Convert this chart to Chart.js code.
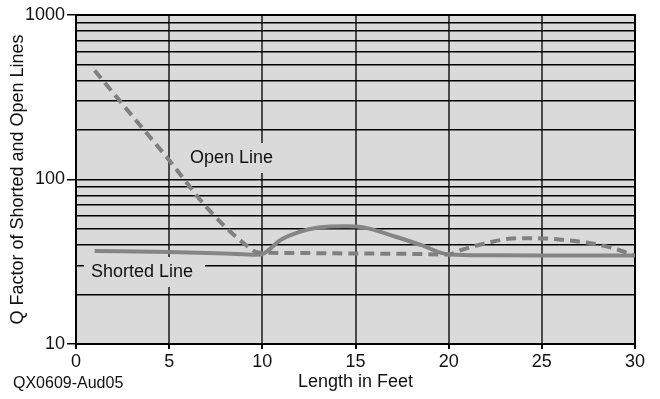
<!DOCTYPE html>
<html>
<head>
<meta charset="utf-8">
<script src="https://cdn.jsdelivr.net/npm/chart.js@4.4.1/dist/chart.umd.min.js"></script>
<style>
  html, body { margin: 0; padding: 0; background: #fff; }
  #wrap { width: 660px; height: 399px; position: relative; }
</style>
</head>
<body>
<div id="wrap"><canvas id="myChart"></canvas></div>
<script>
// Open line (dashed) - length in feet / Q factor
const openFeet = [1, 3, 5, 7, 9, 9.8, 12, 15, 18, 20, 20.6, 22, 23.7, 24.7, 26.1, 27.6, 28.7, 30];
const openQ = [460, 245, 131, 68, 41, 36, 35.7, 35.5, 35.3, 35, 37, 41, 44, 44, 43, 41, 38.5, 34.5];

// Shorted line (solid)
const shortFeet = [1, 5, 8, 9.7, 10, 11, 12, 13, 14.5, 15.5, 17.2, 18.5, 20, 22, 25, 28, 30];
const shortQ = [36.7, 36.3, 35.5, 34.9, 35.2, 43, 48, 51, 52, 51, 44.7, 40, 35, 34.6, 34.5, 34.5, 34.5];

// Axis ticks
const xTicks = [0, 5, 10, 15, 20, 25, 30];
const yTicks = [10, 20, 30, 40, 50, 60, 70, 80, 90, 100, 200, 300, 400, 500, 600, 700, 800, 900, 1000];
const yLabeled = [10, 100, 1000];

const toPoints = (xs, ys) => xs.map((x, i) => ({ x: x, y: ys[i] }));

const FONT = "'Liberation Sans', Arial, sans-serif";
const BG = '#dadada';

// Background of the plot area + border + line labels
const plotDecor = {
    id: 'plotDecor',
    beforeDraw(chart) {
        const { ctx, chartArea: a } = chart;
        ctx.save();
        ctx.fillStyle = BG;
        ctx.fillRect(a.left, a.top, a.right - a.left, a.bottom - a.top);
        ctx.restore();
    },
    beforeDatasetsDraw(chart) {
        const { ctx, chartArea: a } = chart;
        ctx.save();
        ctx.strokeStyle = '#000';
        ctx.lineWidth = 2;
        ctx.strokeRect(a.left, a.top, a.right - a.left, a.bottom - a.top);
        // labels with boxes that hide the grid
        ctx.font = '18px ' + FONT;
        ctx.textBaseline = 'middle';
        const labels = [
            { text: 'Open Line', x: 190, y: 158, box: [183, 143, 100, 30] },
            { text: 'Shorted Line', x: 91, y: 272, box: [84, 257, 121, 30] }
        ];
        labels.forEach(l => {
            ctx.fillStyle = BG;
            ctx.fillRect(l.box[0], l.box[1], l.box[2], l.box[3]);
            ctx.fillStyle = '#111';
            ctx.fillText(l.text, l.x, l.y);
        });
        ctx.restore();
    },
    afterDraw(chart) {
        const { ctx } = chart;
        ctx.save();
        ctx.font = '16px ' + FONT;
        ctx.fillStyle = '#111';
        ctx.textBaseline = 'middle';
        ctx.fillText('QX0609-Aud05', 13, 384);
        ctx.restore();
    }
};

const ctx = document.getElementById('myChart');

new Chart(ctx, {
    type: 'line',
    data: {
        datasets: [{
            label: 'Open Line',
            data: toPoints(openFeet, openQ),
            borderColor: '#808080',
            borderWidth: 4,
            borderDash: [10, 6],
            pointRadius: 0,
            cubicInterpolationMode: 'monotone',
            fill: false
        }, {
            label: 'Shorted Line',
            data: toPoints(shortFeet, shortQ),
            borderColor: '#858585',
            borderWidth: 4,
            pointRadius: 0,
            cubicInterpolationMode: 'monotone',
            fill: false
        }]
    },
    options: {
        responsive: true,
        maintainAspectRatio: false,
        animation: false,
        layout: { padding: { top: 15, right: 25, left: 0, bottom: 0 } },
        plugins: {
            legend: { display: false },
            tooltip: { enabled: false }
        },
        scales: {
            x: {
                type: 'linear',
                min: 0,
                max: 30,
                afterBuildTicks: s => { s.ticks = xTicks.map(v => ({ value: v })); },
                afterFit: s => { s.height = 55; },
                grid: { color: '#4a4a4a', lineWidth: 2, tickLength: 5, tickColor: '#000' },
                border: { color: '#000', width: 2 },
                ticks: { color: '#111', font: { family: FONT, size: 18 }, padding: 2, maxRotation: 0 },
                title: { display: true, text: 'Length in Feet', color: '#111', font: { family: FONT, size: 18 }, padding: { top: 0, bottom: 6 } }
            },
            y: {
                type: 'logarithmic',
                min: 10,
                max: 1000,
                afterBuildTicks: s => { s.ticks = yTicks.map(v => ({ value: v })); },
                afterFit: s => { s.width = 76; },
                grid: {
                    color: '#000',
                    lineWidth: 1.5,
                    tickLength: 9,
                    tickColor: c => (c.tick && yLabeled.includes(c.tick.value)) ? '#000' : 'rgba(0,0,0,0)'
                },
                border: { color: '#000', width: 2 },
                ticks: {
                    color: '#111',
                    font: { family: FONT, size: 18 },
                    padding: 2,
                    autoSkip: false,
                    callback: v => yLabeled.includes(v) ? String(v) : ''
                },
                title: { display: true, text: 'Q Factor of Shorted and Open Lines', color: '#111', font: { family: FONT, size: 18 }, padding: { top: 7, bottom: 0 } }
            }
        }
    },
    plugins: [plotDecor]
});
</script>
</body>
</html>
